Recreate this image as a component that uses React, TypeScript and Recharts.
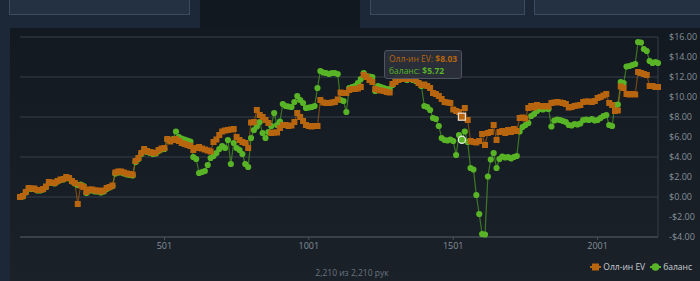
import { LineChart, Line, XAxis, YAxis, CartesianGrid, Tooltip } from "recharts";

const ORANGE = "#b8650f";
const GREEN = "#58b426";
const FONT = "'Open Sans', 'DejaVu Sans', sans-serif";

// Олл-ин EV, sampled every 10 hands
const EV = [
  0.0, 0.1, 0.5, 0.9, 0.85, 0.85, 0.7, 0.7, 0.8, 1.05,
  1.5, 1.45, 1.4, 1.6, 1.75, 1.8, 2.0, 1.9, 1.6, 1.4,
  -0.7, 1.15, 1.0, 0.5, 0.75, 0.75, 0.65, 0.65, 0.55, 0.65,
  0.9, 1.0, 1.15, 2.45, 2.55, 2.55, 2.45, 2.35, 2.3, 2.25,
  3.6, 3.9, 4.4, 4.8, 4.6, 4.5, 4.4, 4.45, 4.7, 4.85,
  4.9, 5.8, 5.55, 5.7, 5.8, 5.6, 5.4, 5.3, 5.2, 5.1,
  4.7, 4.9, 5.0, 4.85, 4.75, 4.65, 4.55, 5.5, 5.75, 6.2,
  6.55, 6.65, 6.7, 6.75, 6.8, 6.0, 5.7, 5.5, 5.4, 4.9,
  7.45, 7.5, 8.7, 8.2, 8.0, 7.7, 7.4, 6.4, 6.45, 6.45,
  6.9, 7.2, 7.2, 7.1, 7.15, 7.5, 8.4, 8.0, 7.6, 7.2,
  7.1, 7.05, 7.1, 7.1, 9.7, 9.45, 9.4, 9.4, 9.45, 9.5,
  9.75, 10.45, 10.4, 10.4, 10.7, 10.8, 10.8, 10.85, 11.0, 12.2,
  12.0, 11.7, 11.5, 10.8, 10.7, 10.65, 10.6, 10.5, 10.45, 11.3,
  11.5, 11.7, 11.8, 11.9, 11.8, 11.9, 11.8, 11.7, 11.4, 11.2,
  11.25, 11.1, 10.9, 10.4, 10.3, 10.1, 9.8, 9.5, 9.45, 9.4,
  8.75, 8.6, 8.5, 8.03, 8.9, 7.7, 5.6, 5.5, 5.45, 5.6,
  6.3, 5.2, 6.4, 6.5, 7.2, 5.7, 6.5, 6.6, 6.4, 6.7,
  6.5, 6.8, 6.6, 7.9, 7.95, 7.85, 8.9, 9.1, 8.95, 9.2,
  9.1, 9.05, 9.1, 9.05, 9.4, 9.45, 9.5, 9.45, 9.4, 9.3,
  8.95, 9.0, 9.1, 9.15, 9.2, 9.5, 9.55, 9.55, 9.5, 9.6,
  9.9, 10.0, 10.15, 10.3, 9.4, 9.2, 8.6, 8.65, 11.05, 10.9,
  10.3, 10.25, 10.3, 10.25, 12.5, 12.4, 12.3, 12.2, 11.1, 11.1,
  11.0, 11.0,
];

// баланс
const BAL = [
  0.0, 0.05, 0.45, 0.85, 0.8, 0.8, 0.65, 0.65, 0.75, 1.0,
  1.45, 1.4, 1.35, 1.55, 1.7, 1.75, 1.95, 1.85, 1.55, 1.35,
  1.2, 1.25, 1.1, 0.4, 0.65, 0.65, 0.55, 0.55, 0.45, 0.55,
  0.8, 0.95, 1.1, 2.35, 2.45, 2.45, 2.35, 2.25, 2.2, 2.15,
  3.5, 3.8, 4.3, 4.7, 4.5, 4.4, 4.3, 4.35, 4.6, 4.75,
  4.8, 5.8, 5.6, 5.8, 6.55, 6.0, 5.85, 5.75, 5.65, 5.55,
  4.0, 3.8, 2.4, 2.5, 2.6, 3.2, 3.9, 4.1, 4.4, 4.8,
  5.1, 4.9, 5.7, 3.3, 5.4, 4.9, 4.7, 4.3, 3.3, 3.0,
  5.9, 6.7, 7.05, 7.5, 6.4, 5.9, 6.5, 7.1, 8.4, 7.2,
  7.55, 9.3, 9.1, 9.05, 9.0, 9.5, 10.1, 9.7, 9.4, 8.9,
  8.95, 9.0, 9.1, 10.9, 12.6, 12.45, 12.4, 12.3, 12.4, 12.4,
  12.3, 9.7, 9.6, 8.5, 10.9, 11.0, 11.1, 11.4, 11.8, 12.4,
  12.1, 12.05, 12.0, 10.6, 11.1, 11.0, 10.9, 10.8, 10.8, 11.2,
  11.9, 11.9, 11.8, 11.9, 11.7, 11.8, 11.7, 11.6, 11.4, 11.1,
  9.1, 9.0, 8.7, 7.9, 7.8, 7.1, 5.9, 5.7, 5.65, 5.75,
  5.6, 4.2, 6.2, 5.72, 6.55, 5.5, 2.9, 2.75, 0.2, -1.7,
  -3.7, -3.75, 2.05, 3.75, 4.4, 2.9, 3.8, 4.05, 3.95, 4.0,
  3.85, 4.0, 4.1, 6.55, 7.0, 7.2, 7.4, 8.1, 8.3, 8.6,
  8.8, 8.75, 8.85, 8.8, 7.05, 7.65, 7.75, 7.7, 7.6, 7.5,
  7.2, 7.15, 7.3, 7.25, 7.35, 7.7, 7.75, 7.7, 7.8, 7.65,
  7.7, 7.9, 8.1, 8.2, 7.2, 7.1, 9.2, 9.25, 11.5, 11.4,
  13.05, 13.1, 13.2, 13.3, 15.5, 15.45, 14.8, 14.6, 13.6, 13.4,
  13.5, 13.4,
];

const TOTAL_HANDS = 2210;
const HANDS = EV.map((_, i) => Math.min(1 + i * 10, TOTAL_HANDS));
const X_TICKS = [501, 1001, 1501, 2001];
const Y_TICKS = [-4, -2, 0, 2, 4, 6, 8, 10, 12, 14, 16];
const HOVER_INDEX = 153;

const data = HANDS.map((hand, i) => ({ hand, ev: EV[i], bal: BAL[i] }));

function money(v: number) {
  return (v < 0 ? "-$" : "$") + Math.abs(v).toFixed(2);
}

function SquareDot(props: any) {
  const { cx, cy, index } = props;
  if (cx == null || cy == null) return null;
  return <rect key={`ev-${index}`} x={cx - 3} y={cy - 3} width={6} height={6} fill={ORANGE} />;
}

function RoundDot(props: any) {
  const { cx, cy, index } = props;
  if (cx == null || cy == null) return null;
  return <circle key={`bal-${index}`} cx={cx} cy={cy} r={3.1} fill={GREEN} />;
}

function SquareActive(props: any) {
  const { cx, cy } = props;
  if (cx == null || cy == null) return null;
  return <rect x={cx - 3.5} y={cy - 3.5} width={7} height={7} fill={ORANGE} stroke="#efe2d2" strokeWidth={1.2} />;
}

function RoundActive(props: any) {
  const { cx, cy } = props;
  if (cx == null || cy == null) return null;
  return <circle cx={cx} cy={cy} r={3.6} fill={GREEN} stroke="#e8efe4" strokeWidth={1.2} />;
}

function TipBox({ active, payload }: any) {
  if (!active || !payload || !payload.length) return null;
  const ev = payload.find((p: any) => p.dataKey === "ev");
  const bal = payload.find((p: any) => p.dataKey === "bal");
  return (
    <div
      style={{
        background: "rgba(42,48,58,0.94)",
        border: "1px solid #4c5560",
        borderRadius: 3,
        padding: "2px 4px",
        fontFamily: FONT,
        fontSize: 8.5,
        lineHeight: "11.5px",
        whiteSpace: "nowrap",
      }}
    >
      <div style={{ color: ORANGE }}>
        Олл-ин EV: <b>{ev ? money(ev.value) : ""}</b>
      </div>
      <div style={{ color: GREEN }}>
        баланс: <b>{bal ? money(bal.value) : ""}</b>
      </div>
    </div>
  );
}

export default function App() {
  const panel = {
    position: "absolute" as const,
    top: -1,
    height: 16,
    background: "#233142",
    border: "1px solid #3c4b5d",
    boxSizing: "border-box" as const,
  };
  return (
    <div
      style={{
        position: "fixed",
        left: 0,
        top: 0,
        width: 700,
        height: 281,
        overflow: "hidden",
        background: "#1c2837",
        fontFamily: FONT,
      }}
    >
      <div style={{ position: "absolute", left: 10, top: 28, right: 0, bottom: 0, background: "linear-gradient(#121920, #1a2129)" }} />
      <div style={{ position: "absolute", left: 200, top: 0, width: 160, height: 28, background: "#111820" }} />
      <div style={{ ...panel, left: 9, width: 181 }} />
      <div style={{ ...panel, left: 370, width: 155 }} />
      <div style={{ ...panel, left: 534, width: 170 }} />

      <div style={{ position: "absolute", left: 0, top: 0 }}>
        <LineChart width={700} height={281} data={data} margin={{ top: 37, right: 0, bottom: 24, left: 20 }}>
          <CartesianGrid horizontal vertical={false} stroke="#363f4a" />
          <XAxis
            dataKey="hand"
            type="number"
            domain={[1, TOTAL_HANDS]}
            ticks={X_TICKS}
            height={20}
            tick={{ fontSize: 9, fill: "#87909a", fontFamily: FONT }}
            tickSize={3}
            tickMargin={3}
            tickLine={{ stroke: "#4a545f" }}
            axisLine={{ stroke: "#4a545f" }}
          />
          <YAxis
            orientation="right"
            width={42}
            domain={[-4, 16]}
            ticks={Y_TICKS}
            tickFormatter={money}
            tick={{ fontSize: 9, fill: "#87909a", fontFamily: FONT, textAnchor: "start" }}
            tickLine={false}
            tickMargin={5}
            axisLine={{ stroke: "#363f4a" }}
          />
          <Tooltip
            content={<TipBox />}
            defaultIndex={HOVER_INDEX}
            active
            cursor={false}
            position={{ x: 384, y: 50 }}
            isAnimationActive={false}
            wrapperStyle={{ outline: "none" }}
          />
          <Line
            type="linear"
            dataKey="bal"
            stroke={GREEN}
            strokeOpacity={0.6}
            strokeWidth={1.2}
            dot={RoundDot}
            activeDot={RoundActive}
            isAnimationActive={false}
          />
          <Line
            type="linear"
            dataKey="ev"
            stroke={ORANGE}
            strokeOpacity={0.6}
            strokeWidth={1.2}
            dot={SquareDot}
            activeDot={SquareActive}
            isAnimationActive={false}
          />
        </LineChart>
      </div>

      <div
        style={{
          position: "absolute",
          left: 252,
          width: 200,
          top: 267,
          textAlign: "center",
          fontSize: 8.5,
          color: "#6b747e",
        }}
      >
        2,210 из 2,210 рук
      </div>

      <div
        style={{
          position: "absolute",
          right: 8,
          top: 261,
          display: "flex",
          alignItems: "center",
          fontSize: 8.5,
          color: "#c9ced4",
          whiteSpace: "nowrap",
        }}
      >
        <svg width={11} height={10}>
          <line x1={0} y1={5} x2={11} y2={5} stroke={ORANGE} strokeWidth={2} />
          <rect x={2} y={1.5} width={7} height={7} fill={ORANGE} />
        </svg>
        <span style={{ marginLeft: 2, marginRight: 5 }}>Олл-ин EV</span>
        <svg width={11} height={10}>
          <line x1={0} y1={5} x2={11} y2={5} stroke={GREEN} strokeWidth={2} />
          <circle cx={5.5} cy={5} r={3.8} fill={GREEN} />
        </svg>
        <span style={{ marginLeft: 2 }}>баланс</span>
      </div>
    </div>
  );
}
